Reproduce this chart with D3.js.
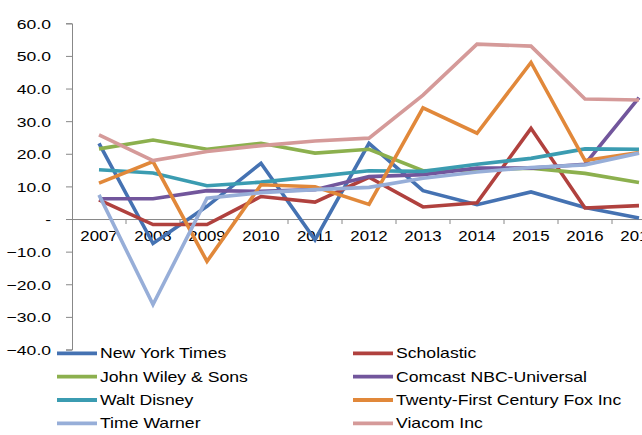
<!DOCTYPE html>
<html>
<head>
<meta charset="utf-8">
<script src="https://cdn.jsdelivr.net/npm/d3@7"></script>
<style>
  html, body { margin: 0; padding: 0; background: #fff; overflow: hidden; }
  svg { display: block; }
  text { font-family: "Liberation Sans", Arial, sans-serif; fill: #000; }
</style>
</head>
<body>
<svg id="chart" width="642" height="435"></svg>
<script>
const years = ["2007","2008","2009","2010","2011","2012","2013","2014","2015","2016","2017"];
const seriesNames = ["New York Times","Scholastic","John Wiley & Sons","Comcast NBC-Universal","Walt Disney","Twenty-First Century Fox Inc","Time Warner","Viacom Inc"];
const nyTimes    = [23.2, -7.5, 3.9, 17.1, -6.4, 23.2, 8.7, 4.4, 8.3, 3.5, 0.3];
const scholastic = [5.9, -1.7, -1.7, 6.9, 5.2, 12.8, 3.7, 5.0, 27.8, 3.4, 4.1];
const wiley      = [21.5, 24.2, 21.4, 23.2, 20.2, 21.4, 14.8, 15.1, 15.6, 14.0, 11.2];
const comcast    = [6.2, 6.2, 8.7, 8.5, 9.0, 13.0, 13.6, 15.6, 15.6, 16.8, 37.2];
const disney     = [15.1, 14.1, 10.2, 11.3, 13.0, 14.8, 14.6, 16.8, 18.6, 21.5, 21.4];
const fox        = [11.0, 17.6, -13.0, 10.5, 9.9, 4.5, 34.1, 26.3, 48.0, 17.9, 20.4];
const timeWarner = [7.4, -26.2, 6.4, 8.1, 9.0, 9.7, 12.5, 14.4, 15.8, 16.6, 20.2];
const viacom     = [25.8, 17.9, 20.7, 22.5, 23.9, 24.8, 38.0, 53.6, 53.0, 36.8, 36.5];
const yTicks = [60, 50, 40, 30, 20, 10, 0, -10, -20, -30, -40];
const colors = ["#4572B2", "#B0413E", "#8CB04E", "#72569C", "#3B9CB1", "#E1883A", "#97AED8", "#D59A99"];

const allSeries = [nyTimes, scholastic, wiley, comcast, disney, fox, timeWarner, viacom];

const svg = d3.select("#chart");
const x = d3.scaleBand().domain(years).range([72, 72 + 54 * years.length]);
const y = d3.scaleLinear().domain([-40, 60]).range([349.5, 23.3]);

// Y axis
const yAxis = svg.append("g").attr("transform", "translate(72,0)")
  .call(d3.axisLeft(y).tickValues(yTicks).tickSize(6).tickPadding(0)
    .tickFormat(d => d === 0 ? "-" : d3.format(".1f")(d)));
yAxis.select(".domain").attr("stroke", "#888").attr("stroke-width", 1);
yAxis.selectAll(".tick line").attr("stroke", "#888");
yAxis.selectAll(".tick text").remove();
yAxis.selectAll(".tick").append("text")
  .attr("text-anchor", "end")
  .attr("dy", "0.36em")
  .attr("font-size", 13.5)
  .attr("transform", "translate(-21,0) scale(1.3,1)")
  .text(d => d === 0 ? "-" : d3.format(".1f")(d));

// X axis at zero
const xAxis = svg.append("g").attr("transform", `translate(0,${y(0)})`)
  .call(d3.axisBottom(x).tickSize(0).tickFormat(""));
xAxis.select(".domain").attr("stroke", "#888");
xAxis.selectAll(".tick").remove();
xAxis.selectAll(".xt").data(d3.range(1, years.length)).enter().append("line")
  .attr("x1", i => x.range()[0] + i * x.step()).attr("x2", i => x.range()[0] + i * x.step())
  .attr("y1", 0).attr("y2", 5).attr("stroke", "#888");
xAxis.selectAll(".xl").data(years).enter().append("text")
  .attr("text-anchor", "middle")
  .attr("font-size", 15)
  .attr("transform", d => `translate(${x(d) + x.bandwidth() / 2},22) scale(1.12,1)`)
  .text(d => d);

// Lines
const line = d3.line().x((d, i) => x(years[i]) + x.bandwidth() / 2).y(d => y(d));
svg.append("g").selectAll("path").data(allSeries).enter().append("path")
  .attr("d", line)
  .attr("fill", "none")
  .attr("stroke", (d, i) => colors[i])
  .attr("stroke-width", 3.6)
  .attr("stroke-linejoin", "miter");

// Legend
const legendRows = [353.3, 376.6, 400, 423.3];
const legendCols = [57, 353];
const lg = svg.append("g").selectAll("g").data(seriesNames).enter().append("g")
  .attr("transform", (d, i) => `translate(${legendCols[i % 2]},${legendRows[Math.floor(i / 2)]})`);
lg.append("line").attr("x1", 0).attr("x2", 40).attr("y1", 0).attr("y2", 0)
  .attr("stroke", (d, i) => colors[i]).attr("stroke-width", 3.8);
lg.append("text")
  .attr("dy", "0.36em")
  .attr("font-size", 14)
  .attr("transform", "translate(43,0) scale(1.26,1)")
  .text(d => d);
</script>
</body>
</html>
